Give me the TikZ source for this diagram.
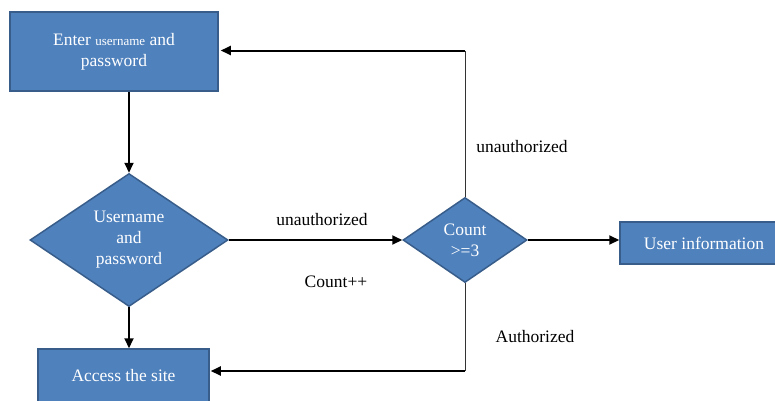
\documentclass[tikz,border=0pt]{standalone}
\usepackage{fontspec}
\setmainfont{Liberation Serif}
\usetikzlibrary{shapes.geometric,arrows.meta}
\definecolor{boxfill}{RGB}{79,129,189}
\definecolor{boxline}{RGB}{56,93,138}
\begin{document}
\begin{tikzpicture}[x=1pt,y=-1pt,
  every node/.style={font=\fontsize{17.5}{21}\selectfont},
  procbox/.style={rectangle,draw=boxline,line width=1.5pt,fill=boxfill,text=white,inner sep=0pt,align=center},
  decbox/.style={diamond,draw=boxline,line width=1.5pt,fill=boxfill,text=white,inner sep=0pt,align=center,aspect=1.5},
  thickarr/.style={line width=2pt,-{Triangle[length=10pt,width=9pt]}},
  thinline/.style={line width=1pt,color=black!80},
  lbl/.style={text=black,inner sep=0pt}]
\useasboundingbox (0,0) rectangle (775,400);
\node[procbox,minimum width=208pt,minimum height=79pt] (enter) at (114,51.5)
  {Enter {\fontsize{13}{21}\selectfont username} and\\password};
\node[decbox,minimum width=198pt,minimum height=133pt] (dec) at (129,240)
  {Username\\and\\password};
\node[decbox,minimum width=124pt,minimum height=85pt] (count) at (465,240)
  {Count\\>=3};
\node[procbox,minimum width=168pt,minimum height=42pt] (user) at (704,243)
  {User information};
\node[procbox,minimum width=171pt,minimum height=54pt] (access) at (123.5,376)
  {Access the site};
\node[lbl] (l1) at (322,220) {unauthorized};
\node[lbl] (l2) at (336,282) {Count++};
\node[lbl] (l3) at (522,147) {unauthorized};
\node[lbl] (l4) at (535,337) {Authorized};
\coordinate (tr) at (465,50.5);
\coordinate (br) at (465,371);
\draw[thickarr] (enter.south -| dec.north) -- (dec.north);
\draw[thickarr] (dec.south) -- (dec.south |- access.north);
\draw[thickarr] (dec.east) -- (count.west);
\draw[thickarr] (count.east) -- (count.east -| user.west);
\draw[thinline] (count.north) -- (tr);
\draw[thickarr,shorten >=2pt] (tr) -- (tr -| enter.east);
\draw[thinline] (count.south) -- (br);
\draw[thickarr,shorten >=1pt] (br) -- (br -| access.east);
\end{tikzpicture}
\end{document}
